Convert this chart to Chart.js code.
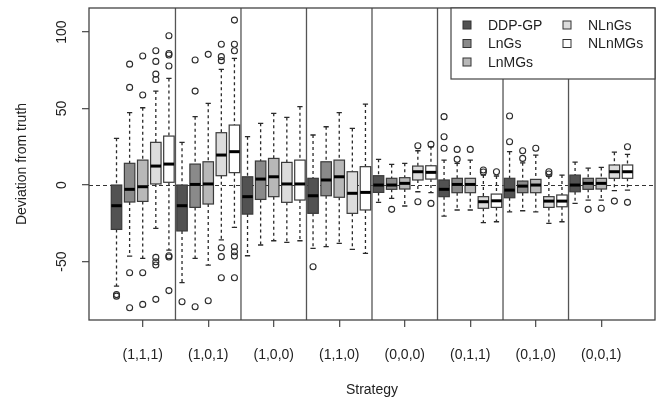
<!DOCTYPE html>
<html>
<head>
<meta charset="utf-8">
<script src="https://cdn.jsdelivr.net/npm/chart.js@4.4.1/dist/chart.umd.min.js"></script>
<style>
  html, body { margin: 0; padding: 0; background: #fff; }
  #wrap { width: 661px; height: 403px; }
</style>
</head>
<body>
<div id="wrap"><canvas id="myChart" width="661" height="403"></canvas></div>
<script>
// strategies along the x axis, methods inside each group
const strategies = ['(1,1,1)', '(1,0,1)', '(1,0,0)', '(1,1,0)', '(0,0,0)', '(0,1,1)', '(0,1,0)', '(0,0,1)']
const methods = ['DDP-GP', 'LnGs', 'LnMGs', 'NLnGs', 'NLnMGs']
const fills = ['#525252', '#8a8a8a', '#b8b8b8', '#dcdcdc', '#ffffff']
const yTicks = [-50, 0, 50, 100]

// box stats per strategy: [lower whisker, q1, median, q3, upper whisker]
const ddpgpBox = [[-66, -29, -13.5, 0, 30.5], [-63.8, -30, -13.5, 0, 27.9], [-46.2, -19, -7.6, 5.4, 31.6], [-41.4, -18.5, -7, 4.4, 32.7],
  [-11.3, -4.8, 0, 6.1, 16.8], [-20.3, -7.6, -2.8, 3.3, 16.3], [-17.5, -8.3, -3.3, 4.4, 21.8], [-12, -4.4, 0, 6.5, 15]]
const lngsBox = [[-46.4, -11.1, -2.8, 14.2, 47.3], [-47.9, -14.6, 0.4, 13.7, 44.7], [-39.2, -9.4, 3.9, 15.7, 40.3], [-40.3, -7, 3.3, 15.2, 38.1],
  [-8.7, -2.8, 0, 4.4, 13.5], [-16.3, -5, 0.4, 4.4, 14.2], [-16.8, -5, -0.7, 2.6, 14.5], [-9.8, -2.8, 1.1, 4.4, 11]]
const lnmgsBox = [[-47.9, -10.7, -1.1, 16.3, 50.5], [-52.3, -12.4, 0.7, 15.2, 53.4], [-36.4, -7.6, 5.4, 17.4, 46.9], [-38.1, -8, 5.4, 16.3, 47.3],
  [-13.7, -2.6, 1.1, 4.8, 14.2], [-16.3, -5, 0.4, 4.4, 16.3], [-17.5, -5, 0, 3.7, 19.6], [-9.8, -2.6, 1.1, 4.4, 11.5]]
const nlngsBox = [[-28.3, 0.7, 12.4, 27.9, 61.4], [-35.9, 6.1, 19.6, 34.2, 75.6], [-37.5, -11.3, 0.7, 14.8, 44.2], [-42, -18.5, -5.4, 8.7, 37],
  [-4.4, 3.3, 8.7, 12.4, 22.4], [-24.6, -15.2, -10.9, -7.6, 6.5], [-25, -14.6, -10.5, -7.6, 5.9], [-3.7, 4.4, 8.7, 13.1, 21.5]]
const nlnmgsBox = [[-42.5, 1.8, 13.7, 32, 69.7], [-27.7, 8.1, 21.8, 39.2, 82.8], [-36.4, -9.8, 0.7, 16.3, 51.2], [-44.6, -16.3, -4.8, 12, 52.9],
  [-5, 3.9, 8.3, 12.6, 25], [-24, -14.6, -10.3, -5.9, 5.9], [-24, -14.2, -10.5, -6.5, 6.5], [-3.3, 4.4, 8.7, 13.1, 20]]

// outliers per strategy
const ddpgpOut = [[-71.6, -72.6], [-76.3], [], [-53.4], [], [44.7, 31.6, 24], [45.1, 28.3], []]
const lngsOut = [[79, 63.8, -57.3, -80.2], [81.7, 61.4, -79.5], [], [], [-15.9], [23.3, 16.8], [22.4, 17.4], [-15.9]]
const lnmgsOut = [[84.3, 58.8, -57.3, -78], [85.4, -75.6], [], [], [], [23.3], [24], [-15.2]]
const nlngsOut = [[87.8, 80.8, 72.5, 69, -47.3, -50.1, -52.3, -74.7], [92, 83.9, 81.3, -41, -46.8, -60.6], [], [], [25.7, -10.9], [9.8, 8.5], [8.7, 7.2], [-10.5]]
const nlnmgsOut = [[97.6, 86, 85, 77.8, -46.2, -47, -69], [107.8, 92, 87.8, -40.3, -43.6, -46.4, -60.6], [], [], [26.6, -12], [8.7], [], [25, -11.3]]

const boxes = [ddpgpBox, lngsBox, lnmgsBox, nlngsBox, nlnmgsBox]
const outs = [ddpgpOut, lngsOut, lnmgsOut, nlngsOut, nlnmgsOut]
const nm = methods.length

const pos = (g, m) => g * nm + m + 1

const FONT = "'Liberation Sans', Arial, sans-serif"

const outlierData = []
outs.forEach(function (list, m) {
  list.forEach(function (vals, g) {
    vals.forEach(function (v) { outlierData.push({ x: pos(g, m), y: v }) })
  })
})

const boxPlugin = {
  id: 'boxes',
  beforeDatasetsDraw(chart) {
    const ctx = chart.ctx, x = chart.scales.x, y = chart.scales.y, a = chart.chartArea
    ctx.save()
    // zero reference
    ctx.strokeStyle = '#333'
    ctx.lineWidth = 1
    ctx.setLineDash([4, 3])
    ctx.beginPath()
    ctx.moveTo(a.left, Math.round(y.getPixelForValue(0)) + 0.5)
    ctx.lineTo(a.right, Math.round(y.getPixelForValue(0)) + 0.5)
    ctx.stroke()
    ctx.setLineDash([])
    // group dividers
    ctx.strokeStyle = '#555'
    ctx.lineWidth = 1.3
    for (let g = 1; g < strategies.length; g++) {
      const px = x.getPixelForValue(g * nm + 0.5)
      ctx.beginPath()
      ctx.moveTo(px, a.top)
      ctx.lineTo(px, a.bottom)
      ctx.stroke()
    }
    boxes.forEach(function (list, m) {
      list.forEach(function (s, g) {
        const p = pos(g, m)
        const xc = x.getPixelForValue(p)
        const hw = x.getPixelForValue(p + 0.4) - xc
        const sw = x.getPixelForValue(p + 0.2) - xc
        const lo = y.getPixelForValue(s[0]), q1 = y.getPixelForValue(s[1])
        const md = y.getPixelForValue(s[2]), q3 = y.getPixelForValue(s[3])
        const hi = y.getPixelForValue(s[4])
        ctx.strokeStyle = '#2a2a2a'
        ctx.lineWidth = 1.3
        ctx.setLineDash([3, 3])
        ctx.beginPath()
        ctx.moveTo(xc, hi); ctx.lineTo(xc, q3)
        ctx.moveTo(xc, q1); ctx.lineTo(xc, lo)
        ctx.stroke()
        ctx.setLineDash([])
        ctx.beginPath()
        ctx.moveTo(xc - sw, hi); ctx.lineTo(xc + sw, hi)
        ctx.moveTo(xc - sw, lo); ctx.lineTo(xc + sw, lo)
        ctx.stroke()
        ctx.fillStyle = fills[m]
        ctx.fillRect(xc - hw, q3, 2 * hw, q1 - q3)
        ctx.strokeStyle = '#3a3a3a'
        ctx.lineWidth = 1.2
        ctx.strokeRect(xc - hw, q3, 2 * hw, q1 - q3)
        ctx.strokeStyle = '#000'
        ctx.lineWidth = 3
        ctx.beginPath()
        ctx.moveTo(xc - hw, md); ctx.lineTo(xc + hw, md)
        ctx.stroke()
      })
    })
    ctx.restore()
  },
  afterDraw(chart) {
    const ctx = chart.ctx, y = chart.scales.y, a = chart.chartArea
    ctx.save()
    // frame
    ctx.strokeStyle = '#444'
    ctx.lineWidth = 1.3
    ctx.strokeRect(a.left, a.top, a.right - a.left, a.bottom - a.top)
    // rotated y tick labels
    ctx.fillStyle = '#222'
    ctx.font = '14px ' + FONT
    ctx.textAlign = 'center'
    ctx.textBaseline = 'middle'
    y.ticks.forEach(function (t) {
      ctx.save()
      ctx.translate(62, y.getPixelForValue(t.value))
      ctx.rotate(-Math.PI / 2)
      ctx.fillText(String(t.value), 0, 0)
      ctx.restore()
    })
    // legend box
    const lx = 451, ly = a.top, lw = a.right - lx, lh = 71
    ctx.fillStyle = '#fff'
    ctx.fillRect(lx, ly, lw, lh)
    ctx.strokeStyle = '#444'
    ctx.lineWidth = 1.2
    ctx.strokeRect(lx, ly, lw, lh)
    ctx.textAlign = 'left'
    methods.forEach(function (name, i) {
      const col = i < 3 ? 0 : 1
      const row = i < 3 ? i : i - 3
      const sx = col === 0 ? 463 : 563
      const sy = ly + 17 + row * 18.5
      ctx.fillStyle = fills[i]
      ctx.fillRect(sx, sy - 4, 8, 8)
      ctx.strokeStyle = '#333'
      ctx.lineWidth = 1
      ctx.strokeRect(sx, sy - 4, 8, 8)
      ctx.fillStyle = '#222'
      ctx.fillText(name, sx + 25, sy + 1)
    })
    ctx.restore()
  }
}

const ctx = document.getElementById('myChart')

const config = {
  type: 'scatter',
  data: {
    datasets: [{
      label: 'outliers',
      data: outlierData,
      pointStyle: 'circle',
      pointRadius: 3,
      pointBorderWidth: 1.1,
      borderColor: '#2a2a2a',
      backgroundColor: 'rgba(0,0,0,0)'
    }]
  },
  options: {
    responsive: false,
    animation: false,
    layout: { padding: { top: 8, right: 6, left: 0, bottom: 0 } },
    plugins: {
      legend: { display: false },
      tooltip: { enabled: false }
    },
    scales: {
      x: {
        type: 'linear',
        min: -1.1,
        max: 42.1,
        afterBuildTicks: function (scale) {
          scale.ticks = strategies.map(function (s, g) { return { value: pos(g, 2) } })
        },
        afterFit: function (scale) { scale.height = 83 },
        ticks: {
          autoSkip: false,
          maxRotation: 0,
          padding: 20,
          color: '#222',
          font: { family: FONT, size: 14 },
          callback: function (v) { return strategies[Math.round((v - 3) / nm)] }
        },
        grid: { drawOnChartArea: false, drawTicks: true, tickLength: 7, color: '#555', lineWidth: 1.3 },
        border: { display: false },
        title: { display: true, text: 'Strategy', color: '#222', font: { family: FONT, size: 14 }, padding: { top: 0, bottom: 4 } }
      },
      y: {
        type: 'linear',
        min: -88.2,
        max: 115.7,
        afterBuildTicks: function (scale) {
          scale.ticks = yTicks.map(function (v) { return { value: v } })
        },
        afterFit: function (scale) { scale.width = 89 },
        ticks: { display: false },
        grid: { drawOnChartArea: false, drawTicks: true, tickLength: 7, color: '#555', lineWidth: 1.3 },
        border: { display: false },
        title: { display: true, text: 'Deviation from truth', color: '#222', font: { family: FONT, size: 14 }, padding: { top: 14, bottom: 0 } }
      }
    }
  },
  plugins: [boxPlugin]
}

const myChart = new Chart(ctx, config)
</script>
</body>
</html>
